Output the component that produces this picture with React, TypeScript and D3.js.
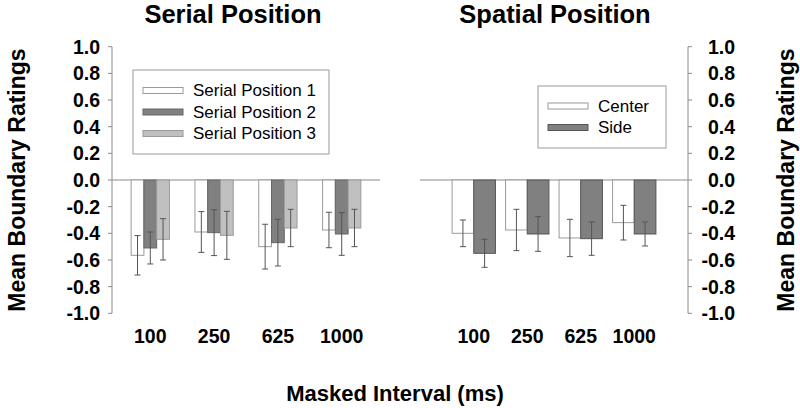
import React from "react";
import * as d3 from "d3";

const intervals = ["100", "250", "625", "1000"];
const yTicks = [1.0, 0.8, 0.6, 0.4, 0.2, 0.0, -0.2, -0.4, -0.6, -0.8, -1.0];

const serialSeries = ["Serial Position 1", "Serial Position 2", "Serial Position 3"];
const serialMeans = [
  [-0.565, -0.39, -0.5, -0.375],
  [-0.51, -0.395, -0.47, -0.405],
  [-0.445, -0.415, -0.36, -0.36],
];
const serialErrors = [
  [0.148, 0.153, 0.168, 0.133],
  [0.12, 0.172, 0.175, 0.16],
  [0.155, 0.18, 0.14, 0.14],
];

const spatialSeries = ["Center", "Side"];
const spatialMeans = [
  [-0.4, -0.375, -0.435, -0.32],
  [-0.55, -0.405, -0.44, -0.405],
];
const spatialErrors = [
  [0.1, 0.155, 0.14, 0.13],
  [0.105, 0.13, 0.125, 0.09],
];

const FONT = "'Liberation Sans', Arial, Helvetica, sans-serif";
const serialFill = ["#ffffff", "#808080", "#c0c0c0"];
const serialStroke = ["#9a9a9a", "#666666", "#9a9a9a"];
const spatialFill = ["#ffffff", "#808080"];
const spatialStroke = ["#9a9a9a", "#555555"];

const y = d3.scaleLinear().domain([-1, 1]).range([313.3, 46.7]);

function Panel({ x0, x1, padInner, padOuter, series, means, errors, fills, strokes }) {
  const xb = d3.scaleBand().domain(intervals).range([x0, x1]).paddingInner(padInner).paddingOuter(padOuter);
  const xs = d3.scaleBand().domain(series.map((_, i) => String(i))).range([0, xb.bandwidth()]);
  const y0 = y(0);
  return (
    <g>
      <line x1={x0} x2={x1} y1={y0} y2={y0} stroke="#8a8a8a" strokeWidth={1} />
      {series.map((s, si) =>
        intervals.map((c, ci) => {
          const v = means[si][ci];
          const bx = xb(c) + xs(String(si));
          const bw = xs.bandwidth();
          const cx = bx + bw / 2;
          const e = errors[si][ci];
          return (
            <g key={s + c}>
              <rect x={bx} y={y(0)} width={bw} height={y(v) - y(0)} fill={fills[si]} stroke={strokes[si]} strokeWidth={1} />
              <line x1={cx} x2={cx} y1={y(v + e)} y2={y(v - e)} stroke="#555" strokeWidth={1} />
              <line x1={cx - 3} x2={cx + 3} y1={y(v + e)} y2={y(v + e)} stroke="#555" strokeWidth={1} />
              <line x1={cx - 3} x2={cx + 3} y1={y(v - e)} y2={y(v - e)} stroke="#555" strokeWidth={1} />
            </g>
          );
        })
      )}
      {intervals.map((c) => (
        <text key={c} x={xb(c) + xb.bandwidth() / 2} y={343} textAnchor="middle" fontFamily={FONT} fontWeight="bold" fontSize={19.5} fill="#000">
          {c}
        </text>
      ))}
    </g>
  );
}

function YAxis({ x, side, labelX }) {
  const dir = side === "left" ? -1 : 1;
  return (
    <g>
      <line x1={x} x2={x} y1={y(1)} y2={y(-1)} stroke="#8a8a8a" strokeWidth={1} />
      {yTicks.map((t) => (
        <g key={t}>
          <line x1={x} x2={x + dir * 4} y1={y(t)} y2={y(t)} stroke="#8a8a8a" strokeWidth={1} />
          <text x={labelX} y={y(t)} dy="0.36em" textAnchor="end" fontFamily={FONT} fontWeight="bold" fontSize={19.5} fill="#000">
            {t.toFixed(1)}
          </text>
        </g>
      ))}
    </g>
  );
}

function Legend({ x, y: ly, w, h, rowY, swX, swW, textX, series, fills, strokes }) {
  return (
    <g>
      <rect x={x} y={ly} width={w} height={h} fill="#fff" stroke="#9a9a9a" strokeWidth={1} />
      {series.map((s, i) => (
        <g key={s}>
          <rect x={swX} y={rowY[i] - 3} width={swW} height={6} fill={fills[i]} stroke={strokes[i]} strokeWidth={1} />
          <text x={textX} y={rowY[i]} dy="0.35em" fontFamily={FONT} fontSize={17} fill="#000">
            {s}
          </text>
        </g>
      ))}
    </g>
  );
}

export default function App() {
  return (
    <svg width={800} height={408} style={{ position: "absolute", left: 0, top: 0, background: "#fff" }}>
      <rect width={800} height={408} fill="#fff" />
      <text x={233} y={23} textAnchor="middle" fontFamily={FONT} fontWeight="bold" fontSize={25.5}>Serial Position</text>
      <text x={555} y={23} textAnchor="middle" fontFamily={FONT} fontWeight="bold" fontSize={25.5}>Spatial Position</text>

      <YAxis x={112} side="left" labelX={100} />
      <YAxis x={688} side="right" labelX={735} />

      <Panel x0={112} x1={380} padInner={0.4} padOuter={0.3} series={serialSeries} means={serialMeans} errors={serialErrors} fills={serialFill} strokes={serialStroke} />
      <Panel x0={420} x1={688} padInner={0.19} padOuter={0.6} series={spatialSeries} means={spatialMeans} errors={spatialErrors} fills={spatialFill} strokes={spatialStroke} />

      <Legend x={133} y={70} w={196} h={84} rowY={[90.5, 112, 133.5]} swX={143} swW={40} textX={193} series={serialSeries} fills={serialFill} strokes={serialStroke} />
      <Legend x={538} y={86} w={128} h={62} rowY={[106, 127.5]} swX={548} swW={40} textX={598} series={spatialSeries} fills={spatialFill} strokes={spatialStroke} />

      <text transform="translate(25,180) rotate(-90)" textAnchor="middle" fontFamily={FONT} fontWeight="bold" fontSize={23}>Mean Boundary Ratings</text>
      <text transform="translate(794,180) rotate(-90)" textAnchor="middle" fontFamily={FONT} fontWeight="bold" fontSize={23}>Mean Boundary Ratings</text>

      <text x={395} y={401} textAnchor="middle" fontFamily={FONT} fontWeight="bold" fontSize={22}>Masked Interval (ms)</text>
    </svg>
  );
}
